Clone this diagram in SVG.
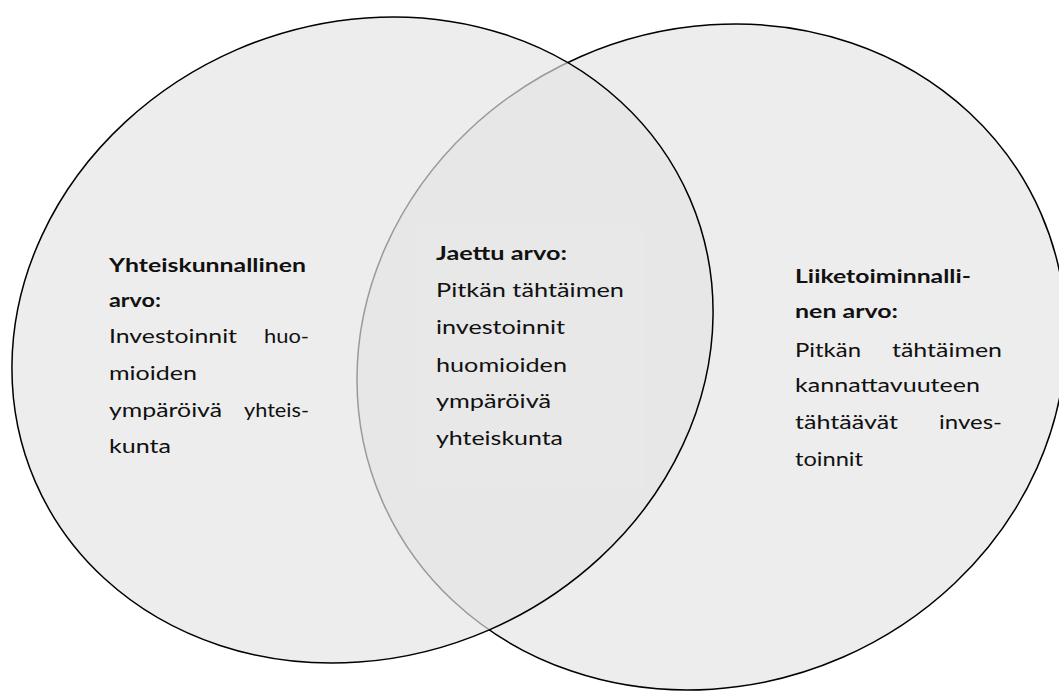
<svg xmlns="http://www.w3.org/2000/svg" width="1059" height="691" viewBox="0 0 1059 691">
<style>
.t{font-family:Lato,"Liberation Sans",sans-serif;font-size:19.5px;fill:#111}
.b{font-weight:700}
.e{stroke:#000;stroke-width:1.5}
</style>
<rect width="1059" height="691" fill="#fff"/>
<g id="liiketoiminnallinen">
<ellipse class="e" cx="711.5" cy="357" rx="359.4" ry="327.7" fill="#ededed" transform="rotate(-23.6 711.5 357)"/>
</g>
<g id="yhteiskunnallinen">
<ellipse class="e" cx="362.5" cy="340" rx="356.6" ry="316.4" fill="rgb(228,228,228)" fill-opacity="0.674" transform="rotate(-23.4 362.5 340)"/>
</g>
<g id="jaettu">
<rect x="418" y="226" width="227" height="263" fill="#e8e8e8"/>
<text class="t b" x="436" y="260" textLength="131" lengthAdjust="spacingAndGlyphs">Jaettu arvo:</text>
<text class="t" x="436" y="297" textLength="188" lengthAdjust="spacingAndGlyphs">Pitkän tähtäimen</text>
<text class="t" x="436" y="334" textLength="129" lengthAdjust="spacingAndGlyphs">investoinnit</text>
<text class="t" x="436" y="372" textLength="131" lengthAdjust="spacingAndGlyphs">huomioiden</text>
<text class="t" x="436" y="408" textLength="115" lengthAdjust="spacingAndGlyphs">ympäröivä</text>
<text class="t" x="436" y="445" textLength="127" lengthAdjust="spacingAndGlyphs">yhteiskunta</text>
</g>
<g id="yhteiskunnallinen-text">
<text class="t b" x="109" y="272" textLength="197" lengthAdjust="spacingAndGlyphs">Yhteiskunnallinen</text>
<text class="t b" x="109" y="307" textLength="52" lengthAdjust="spacingAndGlyphs">arvo:</text>
<text class="t" x="109" y="343" textLength="128" lengthAdjust="spacingAndGlyphs">Investoinnit</text>
<text class="t" x="264" y="343" textLength="45" lengthAdjust="spacingAndGlyphs">huo-</text>
<text class="t" x="109" y="380" textLength="88" lengthAdjust="spacingAndGlyphs">mioiden</text>
<text class="t" x="109" y="417" textLength="113" lengthAdjust="spacingAndGlyphs">ympäröivä</text>
<text class="t" x="244" y="417" textLength="65" lengthAdjust="spacingAndGlyphs">yhteis-</text>
<text class="t" x="109" y="453" textLength="62" lengthAdjust="spacingAndGlyphs">kunta</text>
</g>
<g id="liiketoiminnallinen-text">
<text class="t b" x="795" y="283" textLength="176" lengthAdjust="spacingAndGlyphs">Liiketoiminnalli-</text>
<text class="t b" x="795" y="318" textLength="103" lengthAdjust="spacingAndGlyphs">nen arvo:</text>
<text class="t" x="795" y="357" textLength="66" lengthAdjust="spacingAndGlyphs">Pitkän</text>
<text class="t" x="892" y="357" textLength="110" lengthAdjust="spacingAndGlyphs">tähtäimen</text>
<text class="t" x="795" y="392" textLength="185" lengthAdjust="spacingAndGlyphs">kannattavuuteen</text>
<text class="t" x="795" y="429" textLength="103" lengthAdjust="spacingAndGlyphs">tähtäävät</text>
<text class="t" x="939" y="429" textLength="63" lengthAdjust="spacingAndGlyphs">inves-</text>
<text class="t" x="795" y="466" textLength="68" lengthAdjust="spacingAndGlyphs">toinnit</text>
</g>
<g id="connectors"/>
</svg>
